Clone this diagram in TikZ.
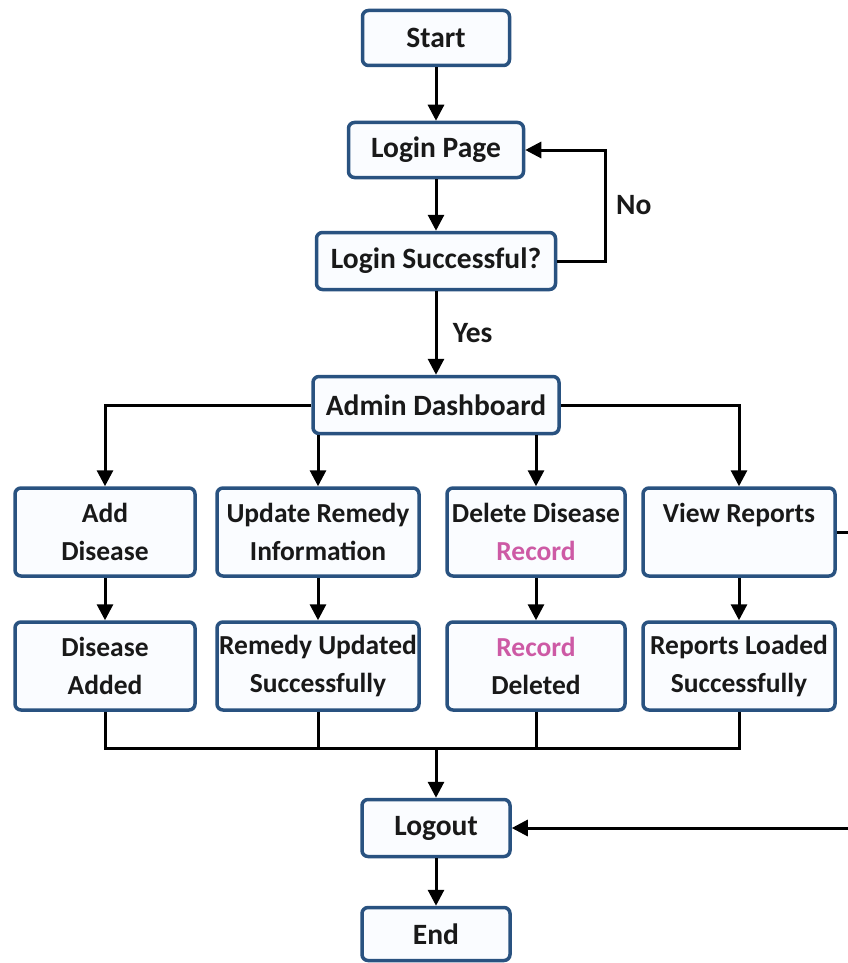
\documentclass[tikz,border=0pt]{standalone}
\usepackage{fontspec}
\setmainfont{Carlito}
\usepackage{xcolor}
\usepackage{tikz}
\usetikzlibrary{arrows.meta, positioning, calc}
\definecolor{boxblue}{RGB}{41, 82, 128}
\definecolor{boxfill}{RGB}{250, 252, 255}
\definecolor{recpink}{RGB}{205, 90, 165}

\begin{document}
\begin{tikzpicture}[
    x=1pt, y=-1pt,
    node distance=57pt,
    box/.style={rectangle, rounded corners=6pt, draw=boxblue, line width=3.5pt, fill=boxfill, align=center, text=black!90, font=\fontsize{29.5}{38}\selectfont\bfseries, inner sep=0pt},
    step box/.style={box, minimum height=88pt, font=\fontsize{27.5}{38}\selectfont\bfseries},
    arrow/.style={line width=3pt, -{Triangle[length=16pt,width=16pt]}},
    line/.style={line width=3pt},
    lbl/.style={font=\fontsize{29.5}{38}\selectfont\bfseries, text=black!90}
]
    \useasboundingbox[fill=white] (0,0) rectangle (847,963);

    % main column
    \node[box, minimum width=147pt, minimum height=55pt] (start) at (436,38) {Start};
    \node[box, minimum width=175pt, minimum height=55pt] (login) at (436,150) {Login Page};
    \node[box, minimum width=239pt, minimum height=57pt] (check) at (436,261) {Login Successful?};
    \node[box, minimum width=246pt, minimum height=57pt] (admin) at (436,405) {Admin Dashboard};

    % actions
    \node[step box, minimum width=180pt] (add) at (105,532) {Add\\Disease};
    \node[step box, minimum width=202pt] (update) at (318,532) {Update Remedy\\Information};
    \node[step box, minimum width=178pt] (delete) at (536,532) {Delete Disease\\\textcolor{recpink}{Record}};
    \node[step box, minimum width=192pt] (view) at (739,532) {View Reports\\\phantom{X}};

    % results
    \node[step box, minimum width=180pt] (added) at (105,666) {Disease\\Added};
    \node[step box, minimum width=202pt] (updated) at (318,666) {Remedy Updated\\Successfully};
    \node[step box, minimum width=178pt] (deleted) at (536,666) {\textcolor{recpink}{Record}\\Deleted};
    \node[step box, minimum width=192pt] (loaded) at (739,666) {Reports Loaded\\Successfully};

    \node[box, minimum width=148pt, minimum height=57pt] (logout) at (436,828) {Logout};
    \node[box, minimum width=148pt, minimum height=53pt] (end) at (436,934) {End};

    \coordinate (merge) at (436,748);
    \coordinate (rail) at (852,700);

    \draw[arrow] (start) -- (login);
    \draw[arrow] (login) -- (check);
    \draw[arrow] (check) -- node[lbl, right=12pt] {Yes} (admin);
    \draw[arrow] (check.east) -- ++(48,0) |- node[lbl, pos=0.25, right=6pt] {No} (login.east);

    \draw[arrow] (admin.west) -| (add.north);
    \draw[arrow] (admin.east) -| (view.north);
    \draw[arrow] (admin.south -| update.north) -- (update.north);
    \draw[arrow] (admin.south -| delete.north) -- (delete.north);

    \draw[arrow] (add) -- (added);
    \draw[arrow] (update) -- (updated);
    \draw[arrow] (delete) -- (deleted);
    \draw[arrow] (view) -- (loaded);

    \draw[line] (added.south) |- (merge) -| (loaded.south);
    \draw[line] (updated.south) -- (updated.south |- merge);
    \draw[line] (deleted.south) -- (deleted.south |- merge);
    \draw[arrow] (merge) -- (logout.north);

    \draw[arrow] (view.east) -- (view.east -| rail) -- (logout.east -| rail) -- (logout.east);
    \draw[arrow] (logout) -- (end);
\end{tikzpicture}
\end{document}
